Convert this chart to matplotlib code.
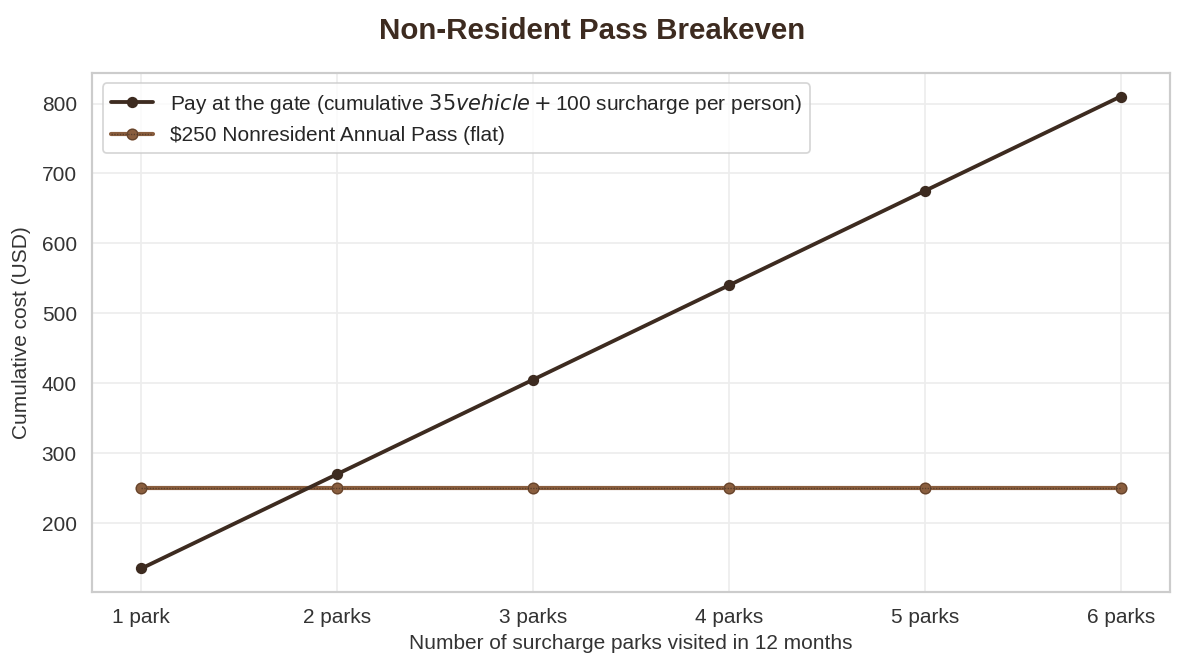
import matplotlib
matplotlib.use("Agg")
import matplotlib.pyplot as plt
import seaborn as sns

categories = ["1 park", "2 parks", "3 parks", "4 parks", "5 parks", "6 parks"]
gate_cost = [135, 270, 405, 540, 675, 810]
pass_cost = [250, 250, 250, 250, 250, 250]

sns.set_theme(style="whitegrid")
plt.rcParams['font.family'] = ['Liberation Sans', 'DejaVu Sans']

dark = "#3d2b20"
brown = "#8a5e3e"

fig, ax = plt.subplots(figsize=(9.48, 5.352), dpi=125)
x = list(range(len(categories)))

label_gate = "Pay at the gate (cumulative $35 vehicle + $100 surcharge per person)"
label_pass = "$250 Nonresident Annual Pass (flat)"

h1, = ax.plot(x, gate_cost, color=dark, lw=2.2, marker="o", ms=5.5, zorder=3)
h2a, = ax.plot(x, pass_cost, color=brown, lw=2.4, marker="o", ms=6, zorder=2)
h2b, = ax.plot(x, pass_cost, color=dark, lw=0.8, ls=(0, (1, 1)), marker="o", ms=6,
               mfc="none", mec=dark, mew=0.5, alpha=0.6, zorder=2)

ax.grid(True, color="#ededed", lw=1)
for s in ax.spines.values():
    s.set_color("#cccccc")
ax.set_xticks(x)
ax.set_xticklabels(categories)
ax.tick_params(labelsize=12, colors="#333333", pad=3)
ax.set_xlabel("Number of surcharge parks visited in 12 months", fontsize=12, color="#333333", labelpad=4)
ax.set_ylabel("Cumulative cost (USD)", fontsize=12, color="#333333", labelpad=6)
fig.suptitle("Non-Resident Pass Breakeven", fontsize=17, fontweight="bold", color=dark, y=0.974)

leg = ax.legend([h1, (h2a, h2b)], [label_gate, label_pass],
                loc="upper left", fontsize=12, frameon=True)
leg.get_frame().set_edgecolor("#cccccc")

fig.subplots_adjust(left=0.078, right=0.987, top=0.891, bottom=0.115)
fig.savefig("out.png", dpi=125)
